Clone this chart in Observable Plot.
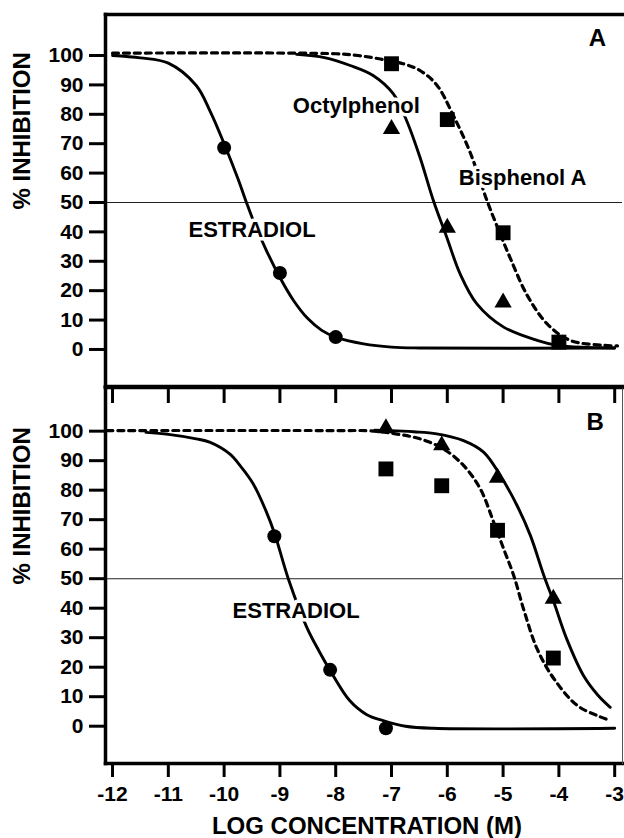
<!DOCTYPE html>
<html>
<head>
<meta charset="utf-8">
<script src="https://cdn.jsdelivr.net/npm/d3@7"></script>
<script src="https://cdn.jsdelivr.net/npm/@observablehq/plot@0.6"></script>
<style>
  body { margin: 0; background: #fff; }
  #chart { position: relative; width: 624px; height: 838px; font-family: "Liberation Sans", Arial, sans-serif; }
  #chart svg { position: absolute; left: 0; }
</style>
</head>
<body>
<div id="chart"></div>
<script>
// ---- axes ----
const xTicks = [-12, -11, -10, -9, -8, -7, -6, -5, -4, -3];
const xTickLabels = ["-12", "-11", "-10", "-9", "-8", "-7", "-6", "-5", "-4", "-3"];
const yTicks = [0, 10, 20, 30, 40, 50, 60, 70, 80, 90, 100];
const halfLine = [50];
const yTitle = "% INHIBITION";
const xTitle = "LOG CONCENTRATION (M)";

// ---- Panel A: measured points ----
const estradiolA_x = [-10, -9, -8];
const estradiolA_y = [68.6, 26, 4.2];
const octylA_x = [-7, -6, -5];
const octylA_y = [75, 41.4, 16];
const bisA_x = [-7, -6, -5, -4];
const bisA_y = [97.2, 78.2, 39.7, 2.5];

// ---- Panel A: fitted curves ----
const estradiolFitA_x = [-12, -11.5, -11, -10.5, -10.25, -10, -9.75, -9.6, -9.5, -9.25, -9, -8.75, -8.5, -8.25, -8, -7.5, -7, -6.5, -3];
const estradiolFitA_y = [100, 99.2, 97.4, 89.8, 81, 70, 58, 50, 45, 34, 24.5, 16.5, 10.5, 6.5, 4.2, 1.9, 0.8, 0.5, 0.5];
const octylFitA_x = [-8.7, -8.2, -7.74, -7.33, -6.97, -6.73, -6.49, -6.25, -6.01, -5.77, -5.47, -4.99, -4.39, -4.03, -3.5, -3];
const octylFitA_y = [100.4, 99.3, 96.6, 93.2, 87, 77.9, 65.4, 50.7, 38.2, 25.7, 15.5, 7.6, 3.1, 1.4, 0.7, 0.5];
const bisFitA_x = [-12, -8, -7.6, -7.2, -6.79, -6.49, -6.19, -5.89, -5.59, -5.29, -5.11, -4.87, -4.57, -4.21, -3.8, -3.2, -2.95];
const bisFitA_y = [100.8, 100.6, 100, 98.8, 97.2, 94.9, 90, 79.5, 67, 50.7, 42, 31, 18.5, 8.7, 3.1, 1.4, 1.2];

// ---- Panel B: measured points ----
const estradiolB_x = [-9.1, -8.1, -7.1];
const estradiolB_y = [64.4, 19.1, -0.7];
const octylB_x = [-7.1, -6.1, -5.1, -4.1];
const octylB_y = [101, 95.2, 84.2, 43.2];
const bisB_x = [-7.1, -6.1, -5.1, -4.1];
const bisB_y = [87.2, 81.5, 66.4, 23.1];

// ---- Panel B: fitted curves ----
const estradiolFitB_x = [-11.4, -11, -10.5, -10.26, -9.9, -9.7, -9.48, -9.25, -9.09, -8.85, -8.52, -8.3, -8.1, -7.75, -7.45, -7.15, -6.75, -6.25, -3];
const estradiolFitB_y = [99.6, 98.9, 97.4, 96.3, 92.3, 88, 82.2, 73, 65, 50, 33.6, 25.5, 18.9, 8.7, 4, 1.9, 0, -0.7, -0.7];
const octylFitB_x = [-7.3, -7.03, -6.6, -6.19, -5.71, -5.35, -5.05, -4.75, -4.51, -4.27, -4.09, -3.86, -3.56, -3.3, -3.08];
const octylFitB_y = [100.3, 100.2, 99.8, 99.1, 96.8, 92.9, 85, 74.8, 64.6, 51.1, 42, 29.6, 17.2, 10.5, 6.4];
const bisFitB_x = [-12.1, -8, -7.39, -6.9, -6.49, -6.07, -5.71, -5.41, -5.17, -4.99, -4.81, -4.63, -4.39, -4.09, -3.67, -3.3, -3.08];
const bisFitB_y = [100.2, 100.2, 100.1, 99, 97.4, 94, 88.4, 80.5, 69.2, 60.1, 51.1, 39.5, 26.2, 16.1, 7, 3.5, 1.9];

// ---- annotations ----
const labelsA_text = ["Octylphenol", "Bisphenol A", "ESTRADIOL"];
const labelsA_x = [-7.63, -4.65, -9.5];
const labelsA_y = [82.7, 58.5, 40.8];
const panelA_letter = { text: "A", x: -3.31, y: 106 };
const labelsB_text = ["ESTRADIOL"];
const labelsB_x = [-8.71];
const labelsB_y = [39.2];
const panelB_letter = { text: "B", x: -3.35, y: 102.9 };

const rows = (xs, ys) => xs.map((x, i) => ({ x, y: ys[i] }));
const labelRows = (ts, xs, ys) => ts.map((t, i) => ({ text: t, x: xs[i], y: ys[i] }));

const FONT = "Liberation Sans, Arial, Helvetica, sans-serif";
const xDomain = [-12.126, -2.86];

function panel({ height, marginTop, marginBottom, yDomain, curves, points, labels, letter, showXLabels, rightBorder }) {
  const marks = [
    Plot.ruleY(halfLine, { stroke: "#222", strokeWidth: 1.1 }),
    ...curves.map(c => Plot.line(c.data, {
      x: "x", y: "y", curve: "catmull-rom", stroke: "black",
      strokeWidth: c.dashed ? 3.2 : 2.9,
      strokeDasharray: c.dashed ? "6,5" : null
    })),
    Plot.text(labels, {
      x: "x", y: "y", text: "text", fill: "black", stroke: "white", strokeWidth: 7,
      fontSize: 22, fontWeight: "bold", fontFamily: FONT
    }),
    Plot.text([letter], {
      x: "x", y: "y", text: "text", fill: "black",
      fontSize: 24, fontWeight: "bold", fontFamily: FONT
    }),
    ...points.map(p => Plot.dot(p.data, {
      x: "x", y: "y", symbol: p.symbol, r: p.r, fill: "black", stroke: "none"
    })),
    Plot.axisY(yTicks, {
      anchor: "left", tickSize: 16, tickPadding: 6, strokeWidth: 3, label: null,
      fontSize: 21, fontWeight: "bold", fontFamily: FONT
    }),
    Plot.text([yTitle], {
      frameAnchor: "left", dx: -83, dy: 9, rotate: -90, text: d => d,
      fontSize: 24, fontWeight: "bold", fontFamily: FONT
    }),
    Plot.frame({ anchor: "left", strokeWidth: 3.5 }),
    Plot.frame({ anchor: "top", strokeWidth: 3.5 }),
    Plot.frame({ anchor: "bottom", strokeWidth: 3.5 })
  ];
  if (rightBorder) marks.push(Plot.frame({ anchor: "right", strokeWidth: 1, stroke: "#555" }));
  if (showXLabels) {
    marks.push(Plot.axisX(xTicks, {
      anchor: "bottom", tickSize: 14, tickPadding: 9, strokeWidth: 3, label: null,
      tickFormat: (d) => xTickLabels[xTicks.indexOf(d)],
      fontSize: 21, fontWeight: "bold", fontFamily: FONT
    }));
    marks.push(Plot.text([xTitle], {
      frameAnchor: "bottom", dx: 3, dy: 70, text: d => d,
      fontSize: 24, fontWeight: "bold", fontFamily: FONT
    }));
  } else {
    marks.push(Plot.axisX(xTicks, {
      anchor: "bottom", tickSize: 17, strokeWidth: 3, label: null,
      tickFormat: () => ""
    }));
  }
  return Plot.plot({
    width: 624, height, marginTop, marginBottom, marginLeft: 105, marginRight: 2,
    style: { background: "transparent", fontFamily: FONT, color: "black", overflow: "visible" },
    x: { domain: xDomain, label: null },
    y: { domain: yDomain, label: null },
    marks
  });
}

const plotA = panel({
  height: 404, marginTop: 14, marginBottom: 18, yDomain: [-12.6, 113.95],
  curves: [
    { data: rows(estradiolFitA_x, estradiolFitA_y) },
    { data: rows(octylFitA_x, octylFitA_y) },
    { data: rows(bisFitA_x, bisFitA_y), dashed: true }
  ],
  points: [
    { data: rows(estradiolA_x, estradiolA_y), symbol: "circle", r: 7 },
    { data: rows(octylA_x, octylA_y), symbol: "triangle", r: 6.4 },
    { data: rows(bisA_x, bisA_y), symbol: "square", r: 8.4 }
  ],
  labels: labelRows(labelsA_text, labelsA_x, labelsA_y),
  letter: panelA_letter,
  showXLabels: false,
  rightBorder: false
});

const plotB = panel({
  height: 452, marginTop: 1, marginBottom: 75, yDomain: [-12.64, 114.8],
  curves: [
    { data: rows(estradiolFitB_x, estradiolFitB_y) },
    { data: rows(octylFitB_x, octylFitB_y) },
    { data: rows(bisFitB_x, bisFitB_y), dashed: true }
  ],
  points: [
    { data: rows(estradiolB_x, estradiolB_y), symbol: "circle", r: 7 },
    { data: rows(octylB_x, octylB_y), symbol: "triangle", r: 6.4 },
    { data: rows(bisB_x, bisB_y), symbol: "square", r: 8.4 }
  ],
  labels: labelRows(labelsB_text, labelsB_x, labelsB_y),
  letter: panelB_letter,
  showXLabels: true,
  rightBorder: true
});

const chart = document.getElementById("chart");
plotB.style.top = "386px";
plotA.style.top = "0px";
chart.appendChild(plotB);
chart.appendChild(plotA);
</script>
</body>
</html>
